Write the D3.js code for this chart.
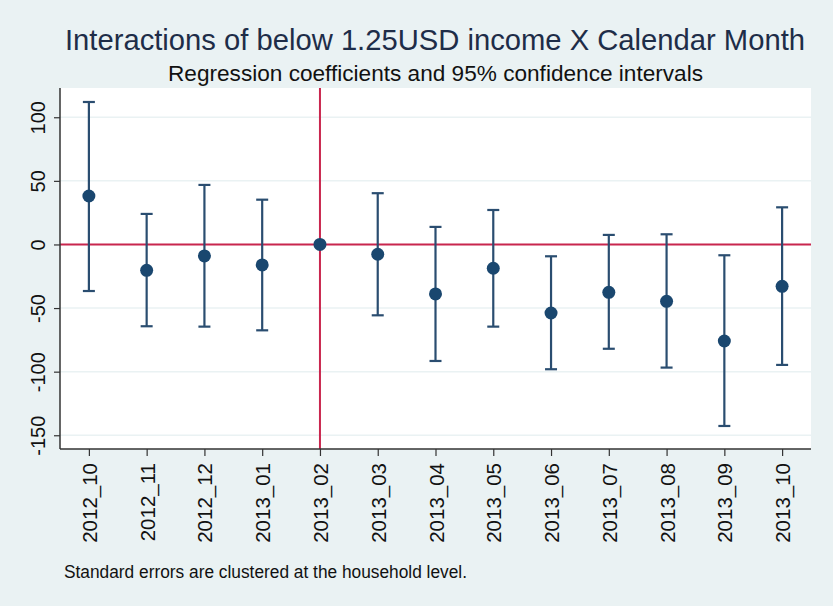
<!DOCTYPE html>
<html><head><meta charset="utf-8">
<script src="https://cdn.jsdelivr.net/npm/d3@7"></script>
<style>body{margin:0;background:#eaf2f3;}svg{display:block;font-family:"Liberation Sans",Arial,sans-serif;}</style>
</head><body>
<svg id="c" width="833" height="606"></svg>
<script>
const months = ["2012_10","2012_11","2012_12","2013_01","2013_02","2013_03","2013_04","2013_05","2013_06","2013_07","2013_08","2013_09","2013_10"];
const coef  = [38.1, -20.3, -9.0, -16.1, 0, -7.7, -38.9, -18.7, -53.9, -37.6, -44.7, -75.9, -32.9];
const lower = [-36.6, -64.3, -64.6, -67.5, null, -55.7, -91.6, -64.6, -98.1, -82.0, -96.8, -142.7, -94.7];
const upper = [112.0, 24.0, 46.8, 35.2, null, 40.3, 13.8, 27.1, -9.3, 7.5, 8.0, -8.5, 29.2];
const yTicks = [-150, -100, -50, 0, 50, 100];

const FONT = "'Liberation Sans', Arial, sans-serif";
const svg = d3.select("#c");
const L = 60, R = 811, T = 88, B = 449;
svg.append("rect").attr("width",833).attr("height",606).attr("fill","#eaf2f3");
svg.append("rect").attr("x",L).attr("y",T).attr("width",R-L).attr("height",B-T).attr("fill","#ffffff");

const x = d3.scalePoint().domain(months).range([L,R]).padding(0.5);
const y = d3.scaleLinear().domain([-160.8, 123]).range([B,T]);

// grid
svg.append("g").selectAll("line").data(yTicks).join("line")
  .attr("x1",L).attr("x2",R).attr("y1",d=>y(d)).attr("y2",d=>y(d))
  .attr("stroke","#eaf2f3").attr("stroke-width",1.5);

// reference lines
svg.append("line").attr("x1",L).attr("x2",R).attr("y1",y(0)).attr("y2",y(0))
  .attr("stroke","#c9264e").attr("stroke-width",2);
svg.append("line").attr("x1",x("2013_02")).attr("x2",x("2013_02")).attr("y1",T).attr("y2",B)
  .attr("stroke","#c9264e").attr("stroke-width",2);

const data = months.map((m,i)=>({m, c:coef[i], lo:lower[i], hi:upper[i]}));
const ci = data.filter(d=>d.lo!==null);
const navy = "#2a4d70";
const g = svg.append("g");
g.selectAll(".v").data(ci).join("line")
  .attr("x1",d=>x(d.m)).attr("x2",d=>x(d.m)).attr("y1",d=>y(d.lo)).attr("y2",d=>y(d.hi))
  .attr("stroke",navy).attr("stroke-width",2.2);
g.selectAll(".capu").data(ci).join("line")
  .attr("x1",d=>x(d.m)-6).attr("x2",d=>x(d.m)+6).attr("y1",d=>y(d.hi)).attr("y2",d=>y(d.hi))
  .attr("stroke",navy).attr("stroke-width",2.2);
g.selectAll(".capl").data(ci).join("line")
  .attr("x1",d=>x(d.m)-6).attr("x2",d=>x(d.m)+6).attr("y1",d=>y(d.lo)).attr("y2",d=>y(d.lo))
  .attr("stroke",navy).attr("stroke-width",2.2);
g.selectAll("circle").data(data).join("circle")
  .attr("cx",d=>x(d.m)).attr("cy",d=>y(d.c)).attr("r",6.5).attr("fill","#1a476f");

// axes
const yAxis = d3.axisLeft(y).tickValues(yTicks).tickFormat(d=>String(d)).tickSize(6).tickPadding(6);
const ya = svg.append("g").attr("transform",`translate(${L},0)`).call(yAxis);
ya.select(".domain").attr("d",`M0,${T}V${B}`).attr("stroke","#333").attr("stroke-width",1.5);
ya.selectAll(".tick line").attr("stroke","#333").attr("stroke-width",1.2);
ya.selectAll(".tick text")
  .attr("x",null).attr("dy",null)
  .attr("transform","translate(-22,0) rotate(-90)")
  .attr("text-anchor","middle").attr("dominant-baseline","central")
  .attr("font-size",20).attr("fill","#111").style("font-family",FONT);

const xAxis = d3.axisBottom(x).tickSize(7).tickPadding(6);
const xa = svg.append("g").attr("transform",`translate(0,${B})`).call(xAxis);
xa.select(".domain").attr("d",`M${L},0H${R}`).attr("stroke","#333").attr("stroke-width",1.5);
xa.selectAll(".tick line").attr("stroke","#333").attr("stroke-width",1.2);
xa.selectAll(".tick text")
  .attr("y",null).attr("dy",null)
  .attr("transform","translate(0,14) rotate(-90)")
  .attr("text-anchor","end").attr("dominant-baseline","central")
  .attr("font-size",20.5).attr("fill","#111").style("font-family",FONT);

// titles
svg.append("text").attr("x",435).attr("y",50).attr("text-anchor","middle")
  .attr("font-size",29).attr("fill","#1e2d48").style("font-family",FONT)
  .attr("textLength",740).attr("lengthAdjust","spacingAndGlyphs")
  .text("Interactions of below 1.25USD income X Calendar Month");
svg.append("text").attr("x",435.5).attr("y",81).attr("text-anchor","middle")
  .attr("font-size",22).attr("fill","#111").style("font-family",FONT)
  .attr("textLength",535).attr("lengthAdjust","spacingAndGlyphs")
  .text("Regression coefficients and 95% confidence intervals");
svg.append("text").attr("x",64).attr("y",578)
  .attr("font-size",17.5).attr("fill","#111").style("font-family",FONT)
  .attr("textLength",403).attr("lengthAdjust","spacingAndGlyphs")
  .text("Standard errors are clustered at the household level.");
</script>
</body></html>
